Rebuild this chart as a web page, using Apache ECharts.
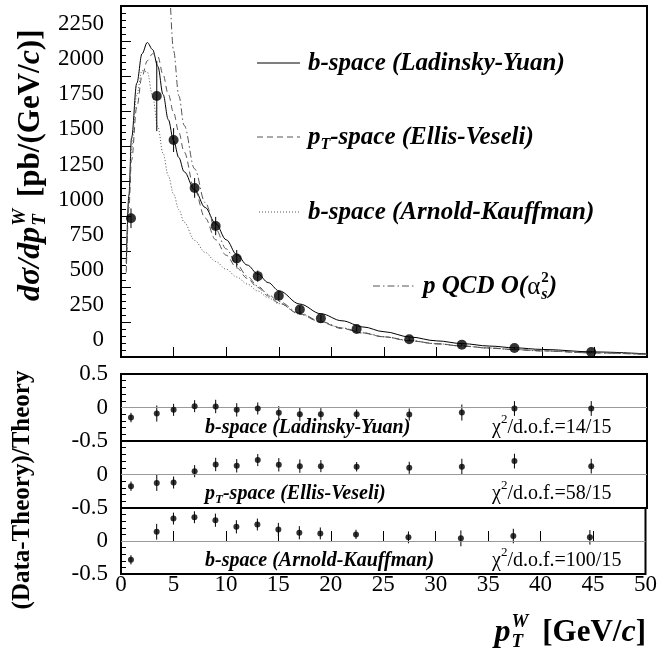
<!DOCTYPE html>
<html>
<head>
<meta charset="utf-8">
<script src="https://cdn.jsdelivr.net/npm/echarts@6/dist/echarts.min.js"></script>
<style>
html, body { margin: 0; padding: 0; background: #fff; }
#chart { width: 660px; height: 650px; }
</style>
</head>
<body>
<div id="chart"></div>
<script>
'use strict';

// measured W pT spectrum (bin centres in GeV/c)
const ptData = [0.95, 3.4, 5, 7, 9, 11, 13, 15, 17, 19, 22.4, 27.4, 32.4, 37.4, 44.7];
const xsecData = [988, 1859, 1545, 1204, 933, 702, 576, 436, 338, 276, 200, 126, 88, 64, 36];
const xsecErr = [70, 250, 85, 70, 65, 60, 40, 35, 28, 22, 16, 12, 10, 8, 6];

// (Data-Theory)/Theory for the three resummed calculations
const ratioLY = [-0.15, -0.09, -0.035, 0.02, 0.015, -0.035, -0.015, -0.08, -0.10, -0.10, -0.10, -0.105, -0.075, -0.015, -0.015];
const ratioEV = [-0.175, -0.125, -0.12, 0.05, 0.15, 0.13, 0.215, 0.145, 0.125, 0.125, 0.115, 0.10, 0.115, 0.20, 0.125];
const ratioAK = [-0.285, 0.14, 0.34, 0.36, 0.315, 0.215, 0.25, 0.175, 0.125, 0.115, 0.10, 0.055, 0.04, 0.075, 0.055];
const ratioErr = [0.07, 0.12, 0.09, 0.09, 0.1, 0.1, 0.09, 0.1, 0.1, 0.09, 0.07, 0.09, 0.12, 0.11, 0.11];

// theory curves
const curvePt = [0.5, 0.75, 1, 1.5, 2, 2.5, 3, 3.5, 4, 4.5, 5, 5.5, 6, 7, 8, 9, 10, 11, 12, 13, 14, 15, 17, 19, 21, 23, 25, 27.5, 30, 32.5, 35, 37.5, 40, 45, 50];
const curveLY = [670, 1150, 1560, 1950, 2160, 2240, 2190, 2070, 1870, 1690, 1540, 1420, 1320, 1190, 1065, 950, 835, 730, 655, 592, 530, 472, 377, 308, 258, 214, 180, 142, 115, 95, 78, 65, 54, 36, 22];
const curveEV = [600, 1060, 1400, 1780, 2000, 2110, 2160, 2140, 2010, 1870, 1740, 1600, 1460, 1190, 990, 835, 725, 635, 560, 495, 435, 385, 305, 247, 203, 170, 143, 115, 94, 78, 64, 53, 44, 30, 19];
const curveAK = [620, 1130, 1480, 1870, 2040, 2030, 1860, 1640, 1450, 1290, 1160, 1050, 960, 830, 745, 680, 625, 570, 520, 470, 422, 380, 305, 250, 207, 172, 144, 117, 95, 78, 64, 53, 44, 30, 19];
const curveQCD = [null, null, null, null, null, null, null, null, null, 2900, 2180, 1860, 1650, 1340, 1100, 910, 770, 660, 575, 505, 445, 395, 312, 252, 207, 172, 144, 116, 94, 77, 63, 52, 43, 29, 18];

const curveNames = ['b-space (Ladinsky-Yuan)', 'pT-space (Ellis-Veseli)', 'b-space (Arnold-Kauffman)', 'p QCD O(as2)'];
const chiLabels = ['14/15', '58/15', '100/15'];

const serif = '"Liberation Serif", "Times New Roman", serif';
const lineStyles = [
    { color: '#000', width: 1, type: 'solid' },
    { color: '#555', width: 1, type: [6, 4] },
    { color: '#555', width: 1, type: [1, 2] },
    { color: '#555', width: 1, type: [7, 3, 1.5, 3] },
];

const measure = document.createElement('canvas').getContext('2d');
function textWidth(t, font) {
    measure.font = font;
    return measure.measureText(t).width;
}

// lay out a run of text pieces (for sub/superscripts)
function textRun(pieces, x0, y0) {
    let x = x0;
    const out = [];
    pieces.forEach((p) => {
        out.push({
            type: 'text', x: x, y: y0 + (p.dy || 0), silent: true,
            style: { text: p.t, font: p.f, fill: '#000', textVerticalAlign: 'middle', verticalAlign: 'middle' },
        });
        if (!p.stack) x += textWidth(p.t, p.f) + (p.gap || 0);
    });
    return out;
}

function runWidth(pieces) {
    let w = 0;
    pieces.forEach((p) => { if (!p.stack) w += textWidth(p.t, p.f) + (p.gap || 0); });
    return w;
}

function pairs(xs, ys) {
    const out = [];
    xs.forEach((x, i) => { if (ys[i] != null) out.push([x, ys[i]]); });
    return out;
}

function errorBars(axis, xs, ys, es) {
    return {
        type: 'custom', xAxisIndex: axis, yAxisIndex: axis, z: 4,
        data: xs.map((x, i) => [x, ys[i], es[i]]),
        encode: { x: 0, y: 1 },
        renderItem(params, api) {
            const x = api.value(0), y = api.value(1), e = api.value(2);
            const p1 = api.coord([x, y - e]);
            const p2 = api.coord([x, y + e]);
            return {
                type: 'line',
                shape: { x1: p1[0], y1: p1[1], x2: p2[0], y2: p2[1] },
                style: { stroke: '#000', lineWidth: 1 },
            };
        },
    };
}

const gridL = 121, gridW = 526;
const grids = [
    { left: gridL, width: gridW, top: 6, height: 351 },
    { left: gridL, width: gridW, top: 374, height: 67 },
    { left: gridL, width: gridW, top: 441, height: 67 },
    { left: gridL, width: gridW, top: 508, height: 66 },
].map((g) => Object.assign(g, { show: true, borderColor: '#000', borderWidth: 2, backgroundColor: 'transparent' }));

const tickStyle = { color: '#000', width: 1 };

const xAxes = grids.map((g, i) => ({
    gridIndex: i, type: 'value', min: 0, max: 50, interval: 5,
    axisLine: { show: false },
    splitLine: { show: false },
    axisTick: { show: i === 0 || i === 3, inside: true, length: 10, lineStyle: tickStyle },
    axisLabel: { show: i === 3, margin: -1, fontFamily: serif, fontSize: 23, color: '#000' },
}));

const yAxes = [{
    gridIndex: 0, type: 'value', min: 0, max: 2500, interval: 250,
    axisLine: { show: false },
    splitLine: { show: false },
    axisTick: { inside: true, length: 10, lineStyle: tickStyle },
    minorTick: { show: true, splitNumber: 5, length: 5, lineStyle: tickStyle },
    axisLabel: {
        showMaxLabel: false, margin: 17, fontFamily: serif, fontSize: 23, color: '#000',
        formatter: (v) => String(v),
        verticalAlign: 'bottom', lineHeight: 34,
    },
}].concat([1, 2, 3].map((i) => ({
    gridIndex: i, type: 'value', min: -0.5, max: 0.5, interval: 0.5,
    axisLine: { show: false },
    splitLine: { show: false },
    axisTick: { inside: true, length: 10, lineStyle: tickStyle },
    minorTick: { show: true, splitNumber: 5, length: 5, lineStyle: tickStyle },
    axisLabel: { showMaxLabel: i === 1, margin: 13, fontFamily: serif, fontSize: 23, color: '#000' },
})));

const curves = [curveLY, curveEV, curveAK, curveQCD];
const series = curves.map((c, i) => ({
    type: 'line', name: curveNames[i], xAxisIndex: 0, yAxisIndex: 0,
    data: pairs(curvePt, c),
    showSymbol: false, symbol: 'none', smooth: 0.35, smoothMonotone: 'x',
    clip: true, z: 2,
    lineStyle: lineStyles[i],
}));

series.push(errorBars(0, ptData, xsecData, xsecErr));
series.push({
    type: 'scatter', xAxisIndex: 0, yAxisIndex: 0, z: 5,
    data: pairs(ptData, xsecData),
    symbol: 'circle', symbolSize: 10, itemStyle: { color: '#000' },
});

[ratioLY, ratioEV, ratioAK].forEach((r, k) => {
    const ax = k + 1;
    series.push(errorBars(ax, ptData, r, ratioErr));
    series.push({
        type: 'scatter', xAxisIndex: ax, yAxisIndex: ax, z: 5,
        data: pairs(ptData, r),
        symbol: 'circle', symbolSize: 6, itemStyle: { color: '#000' },
        markLine: {
            silent: true, symbol: 'none', label: { show: false },
            lineStyle: { color: '#999', width: 1, type: 'solid' },
            data: [{ yAxis: 0 }],
        },
    });
});

// legend (upper panel)
const legF = 'italic bold 25px ' + serif;
const legS = 'italic bold 16px ' + serif;
const legendRows = [
    { x1: 257, x2: 300, y: 63, tx: 308, pieces: [{ t: 'b-space (Ladinsky-Yuan)', f: legF }] },
    { x1: 257, x2: 300, y: 137, tx: 308, pieces: [{ t: 'p', f: legF }, { t: 'T', f: legS, dy: 7 }, { t: '-space (Ellis-Veseli)', f: legF }] },
    { x1: 259, x2: 300, y: 212, tx: 308, pieces: [{ t: 'b-space (Arnold-Kauffman)', f: legF }] },
    { x1: 373, x2: 415, y: 286, tx: 423, pieces: [
        { t: 'p QCD O(', f: legF }, { t: '\u03b1', f: '25px ' + serif, gap: 1 },
        { t: 's', f: legS, dy: 8, stack: true }, { t: '2', f: 'bold 15px ' + serif, dy: -9 },
        { t: ')', f: legF },
    ] },
];

const graphics = [];
legendRows.forEach((row, i) => {
    graphics.push({
        type: 'line', silent: true,
        shape: { x1: row.x1, y1: row.y, x2: row.x2, y2: row.y },
        style: { stroke: lineStyles[i].color, lineWidth: 1, lineDash: Array.isArray(lineStyles[i].type) ? lineStyles[i].type : null },
    });
    textRun(row.pieces, row.tx, row.y + 1).forEach((e) => graphics.push(e));
});

// panel labels (lower panel)
const panF = 'italic bold 20px ' + serif;
const chiF = '20px ' + serif;
const panelRows = [
    [{ t: 'b-space (Ladinsky-Yuan)', f: panF }],
    [{ t: 'p', f: panF }, { t: 'T', f: 'italic bold 13px ' + serif, dy: 6 }, { t: '-space (Ellis-Veseli)', f: panF }],
    [{ t: 'b-space (Arnold-Kauffman)', f: panF }],
];
const panelY = [428, 494, 561];
panelRows.forEach((p, k) => {
    textRun(p, 205, panelY[k]).forEach((e) => graphics.push(e));
    textRun([
        { t: '\u03c7', f: chiF }, { t: '2', f: '13px ' + serif, dy: -8 },
        { t: '/d.o.f.=' + chiLabels[k], f: chiF },
    ], 492, panelY[k]).forEach((e) => graphics.push(e));
});

// axis titles
const tF = 'italic bold 32px ' + serif;
const tB = 'bold 31px ' + serif;
const tS = 'italic bold 19px ' + serif;
const yPieces = [
    { t: 'd\u03c3/dp', f: tF, gap: 1 },
    { t: 'T', f: tS, dy: 9, stack: true }, { t: 'W', f: tS, dy: -11, gap: 12 },
    { t: '[pb/(GeV/', f: tB }, { t: 'c', f: tF }, { t: ')]', f: tB },
];
graphics.push({
    type: 'group', x: 31, y: 301, rotation: Math.PI / 2,
    children: textRun(yPieces, 0, 0),
});

const yTitle2 = '(Data-Theory)/Theory';
const yF2 = 'bold 25px ' + serif;
graphics.push({
    type: 'group', x: 23, y: 490 + textWidth(yTitle2, yF2) / 2, rotation: Math.PI / 2,
    children: textRun([{ t: yTitle2, f: yF2 }], 0, 0),
});

const xPieces = [
    { t: 'p', f: tF, gap: 1 },
    { t: 'T', f: tS, dy: 9, stack: true }, { t: 'W', f: tS, dy: -11, gap: 14 },
    { t: '[GeV/', f: tB }, { t: 'c', f: tF }, { t: ']', f: tB },
];
textRun(xPieces, 646 - runWidth(xPieces), 633).forEach((e) => graphics.push(e));

const chart = echarts.init(document.getElementById('chart'), null, { renderer: 'canvas' });
chart.setOption({
    animation: false,
    backgroundColor: '#fff',
    grid: grids,
    xAxis: xAxes,
    yAxis: yAxes,
    series: series,
    graphic: { elements: graphics },
});
</script>
</body>
</html>
